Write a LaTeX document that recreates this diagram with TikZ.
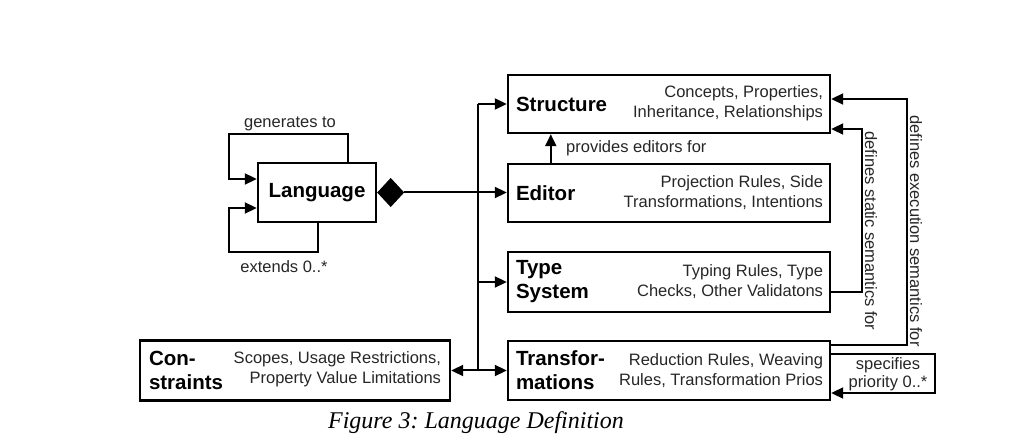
\documentclass[tikz,border=0pt]{standalone}
\usepackage{fontspec}
\setmainfont{Liberation Sans}
\newfontfamily\capfont{Liberation Serif}
\usetikzlibrary{arrows.meta,shapes.geometric}
\frenchspacing

\tikzset{
  box/.style={draw, line width=2.4pt, minimum width=322, inner sep=0},
  title/.style={inner sep=0, font=\bfseries\fontsize{20.5}{24}\selectfont, align=left},
  desc/.style={inner sep=0, text=black!85, font=\fontsize{16.5}{20}\selectfont, align=right},
  lbl/.style={inner sep=0, text=black!85, font=\fontsize{16.5}{18}\selectfont},
  arr/.style={line width=2pt, -{Triangle[length=12pt,width=11pt]}},
  con/.style={line width=2pt}
}

\begin{document}
\begin{tikzpicture}[x=1pt,y=-1pt]
    \useasboundingbox (0,0) rectangle (1029,443);

    \node[box, minimum height=58] (struct) at (669,104) {};
    \node[box, minimum height=58] (edit) at (669,193) {};
    \node[box, minimum height=60] (type) at (669,282) {};
    \node[box, minimum height=59] (trans) at (669,370.5) {};
    \node[box, minimum width=310, minimum height=60] (cons) at (295,370.5) {};
    \node[box, minimum width=118, minimum height=59] (lang) at (317,192.5) {};

    \node[title, anchor=west] at ([xshift=9pt]struct.west) {Structure};
    \node[desc, anchor=east] at ([xshift=-8pt,yshift=1pt]struct.east) {Concepts, Properties,\\Inheritance, Relationships};
    \node[title, anchor=west] at ([xshift=9pt]edit.west) {Editor};
    \node[desc, anchor=east] at ([xshift=-8pt]edit.east) {Projection Rules, Side\\Transformations, Intentions};
    \node[title, anchor=west] at ([xshift=9pt]type.west) {Type\\System};
    \node[desc, anchor=east] at ([xshift=-8pt]type.east) {Typing Rules, Type\\Checks, Other Validatons};
    \node[title, anchor=west] at ([xshift=9pt]trans.west) {Transfor-\\mations};
    \node[desc, anchor=east] at ([xshift=-8pt]trans.east) {Reduction Rules, Weaving\\Rules, Transformation Prios};
    \node[title, anchor=west] at ([xshift=10pt]cons.west) {Con-\\straints};
    \node[desc, anchor=east] at ([xshift=-10pt,yshift=1pt]cons.east) {Scopes, Usage Restrictions,\\Property Value Limitations};
    \node[title] at (lang) {Language};

    \node[diamond, fill, draw, line width=1pt, minimum width=26, minimum height=28, inner sep=0, anchor=west] (dia) at (lang.east) {};

    \coordinate (bus) at (478,0);
    \coordinate (genl) at (229,134);
    \coordinate (extl) at (229,252);
    \coordinate (stat) at (862,129);
    \coordinate (exec) at (907,99);
    \coordinate (prio) at (935,393);

    \draw[con] (bus |- struct.west) -- (bus |- trans.west);
    \draw[arr] (bus |- struct.west) -- (struct.west);
    \draw[arr] (dia.east) -- (dia.east -| edit.west);
    \draw[arr] (bus |- type.west) -- (type.west);
    \draw[arr] (bus |- trans.west) -- (trans.west);
    \draw[arr] (bus |- trans.west) -- (cons.east);

    \draw[arr] ([xshift=-29pt]lang.north east) |- (genl) |- ([yshift=13.5pt]lang.west);
    \draw[arr] ([xshift=1pt]lang.south) |- (extl) |- ([yshift=-15.5pt]lang.west);
    \node[lbl] (genlbl) at (290,124) {generates to};
    \node[lbl] (extlbl) at (284,267) {extends 0..*};

    \draw[arr] ([xshift=44pt]edit.north west) -- ([xshift=44pt]struct.south west);
    \node[lbl, anchor=west] (provlbl) at (566,148) {provides editors for};

    \draw[arr] ([yshift=-10pt]type.east) -| (stat) -- (stat -| struct.east);
    \draw[arr] ([yshift=-5pt]trans.north east) -| (exec) -- (exec -| struct.east);
    \draw[arr] ([yshift=-14pt]trans.north east) -| (prio) -- (prio -| trans.east);
    \node[lbl, rotate=-90] (statlbl) at (871,231) {defines static semantics for};
    \node[lbl, rotate=-90] (execlbl) at (916,231) {defines execution semantics for};
    \node[lbl, align=center] (priolbl) at (888,374) {specifies\\priority 0..*};

    \node[inner sep=0, font=\capfont\itshape\fontsize{24}{28}\selectfont] (caption) at (476,423) {Figure 3: Language Definition};
\end{tikzpicture}
\end{document}
